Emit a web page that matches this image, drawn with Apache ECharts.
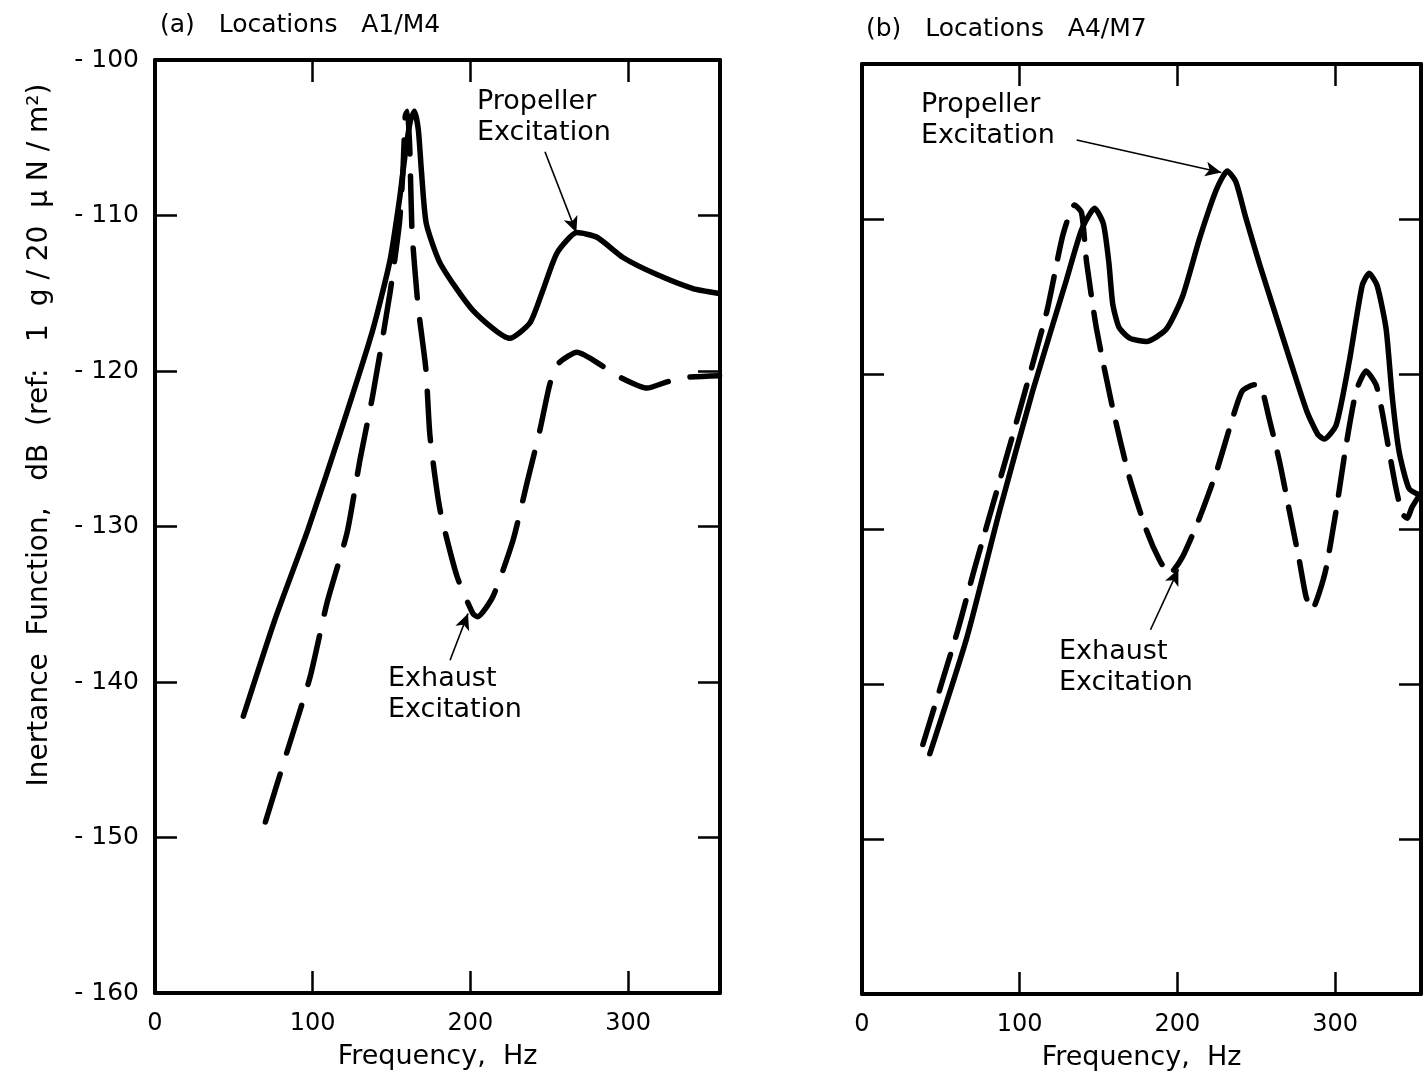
<!DOCTYPE html>
<html><head><meta charset="utf-8">
<script src="https://cdn.jsdelivr.net/npm/echarts@6/dist/echarts.min.js"></script>
<style>html,body{margin:0;padding:0;background:#fff}#c{width:1424px;height:1076px}</style>
</head><body><div id="c"></div><script>
// ---- data (Hz, dB) ----
const xTickValues = [0, 100, 200, 300];
const yTickValues = [-100, -110, -120, -130, -140, -150, -160];
const panelTitles = ['(a)   Locations   A1/M4', '(b)   Locations   A4/M7'];
const xAxisName = 'Frequency,  Hz';
const yAxisName = 'Inertance  Function,   dB  (ref:   1  g / 20  \u03bc N / m\u00b2)';

const aPropeller = [[56,-142.2],[76,-136],[97,-130.2],[119,-123.5],[138,-117.4],[149,-112.9],[155,-109],[159,-105.8],[162,-103.9],[164.5,-103.3],[167,-104.5],[169,-107.2],[172,-110.5],[181,-113.1],[201.6,-116.1],[225,-117.9],[237.8,-116.9],[246,-114.8],[255,-112.4],[267.6,-111.1],[280.3,-111.4],[296.8,-112.7],[318.3,-113.8],[341.2,-114.7],[357,-115]];
const aExhaust = [[70,-149],[83.7,-144.5],[98.3,-139.7],[109.1,-134.9],[121.8,-130.4],[130,-125.7],[138.2,-121.5],[149,-115],[155,-110.5],[157.3,-107],[158.7,-103.6],[160,-103.3],[161.5,-105.5],[163,-111],[166.8,-115.8],[171.8,-119.9],[174.4,-124.2],[180.7,-128.9],[191.5,-133.2],[201.6,-135.6],[204.5,-135.8],[214.3,-134.5],[227,-130.9],[235.9,-127.2],[244.1,-123.8],[250.5,-120.8],[256,-119.5],[267.6,-118.8],[284.1,-119.7],[294.9,-120.4],[312,-121.1],[324.7,-120.7],[337.3,-120.4],[358,-120.3]];
const bPropeller = [[43,-144.5],[66.5,-137],[87.3,-128.8],[108.2,-121.1],[129.7,-113.9],[139.2,-110.7],[147.5,-109.3],[153,-110.3],[156.5,-112.8],[159,-115.5],[163,-117],[170,-117.7],[180.4,-117.9],[193,-117.1],[203.2,-115],[213.9,-111.3],[224.7,-108.1],[231.6,-106.9],[237,-107.6],[243,-109.8],[252,-112.9],[262,-116.1],[272,-119.3],[282,-122.4],[289,-123.9],[293,-124.2],[300.6,-123.3],[308.9,-119.2],[317.1,-114.3],[321.5,-113.5],[326.6,-114.3],[332.3,-117.1],[336.1,-121.4],[340.5,-125],[346.8,-127.4],[353.5,-127.8]];
const bExhaust = [[38.6,-143.9],[60.8,-136.5],[71.5,-132.5],[96.8,-123.5],[117.1,-116],[127.2,-111.1],[134.8,-109.1],[139.2,-109.6],[142.4,-112.8],[148.7,-117.1],[158.9,-122.2],[169.6,-126.7],[180.4,-130.1],[188.6,-132],[194.9,-132.9],[203.2,-131.8],[213.9,-129.3],[224.7,-126.3],[234.8,-122.9],[241.1,-121.1],[248.7,-120.7],[253.2,-120.9],[258.2,-122.9],[264.6,-125.6],[270.9,-128.8],[277.2,-132],[281.6,-134.4],[285.4,-135.2],[289.9,-134.1],[294.3,-132.5],[300.6,-128.8],[306.9,-124.6],[313.3,-121.1],[319.6,-119.8],[325.9,-120.7],[329.7,-122.4],[334.2,-125],[338.6,-127.4],[342.4,-129],[345.6,-129.3],[348.7,-128.6],[353.5,-127.8]];

// annotation arrows: [tail, tip] in data coords
const aPropArrow = [[247.3,-105.9],[267.2,-111.1]];
const aExhArrow = [[187.1,-138.6],[198.5,-135.6]];
const bPropArrow = [[136.1,-104.9],[227.8,-107.0]];
const bExhArrow = [[182.9,-136.5],[200.6,-132.6]];
const annotationTexts = ['Propeller\nExcitation', 'Exhaust\nExcitation'];

// ---- chart ----
const FONT = 'DejaVu Sans';
const chart = echarts.init(document.getElementById('c'), null, {renderer: 'canvas'});
const grids = [
  {left: 155, top: 60, width: 565, height: 933},
  {left: 862, top: 64, width: 560, height: 934}
];
const xMax = [358.3, 354.4];

function xAx(g, pos, labels) {
  return {
    type: 'value', gridIndex: g, position: pos, min: 0, max: xMax[g], interval: 100,
    axisLine: {show: true, onZero: false, lineStyle: {color: '#000', width: 4}},
    axisTick: {show: true, inside: true, length: 22, lineStyle: {color: '#000', width: 2.5}},
    axisLabel: {show: labels, margin: 19, color: '#000', fontSize: 24, fontFamily: FONT,
      formatter: v => xTickValues.indexOf(v) >= 0 ? String(v) : ''},
    splitLine: {show: false},
    name: labels ? xAxisName : '', nameLocation: 'middle', nameGap: 50,
    nameTextStyle: {color: '#000', fontSize: 27, fontFamily: FONT}
  };
}
function yAx(g, pos, labels) {
  return {
    type: 'value', gridIndex: g, position: pos, min: -160, max: -100, interval: 10,
    axisLine: {show: true, onZero: false, lineStyle: {color: '#000', width: 4}},
    axisTick: {show: true, inside: true, length: 22, lineStyle: {color: '#000', width: 2.5}},
    axisLabel: {show: labels, margin: 16, color: '#000', fontSize: 25, fontFamily: FONT,
      formatter: v => yTickValues.indexOf(v) >= 0 ? ('- ' + Math.abs(v)) : ''},
    splitLine: {show: false}
  };
}
function arrow(pts) {
  return {
    silent: true, symbol: ['none', 'arrow'], symbolSize: [11, 16],
    label: {show: false},
    lineStyle: {color: '#000', width: 1.6, type: 'solid'},
    data: [[{coord: pts[0]}, {coord: pts[1]}]]
  };
}
function line(data, xi, yi, dashed, ml) {
  return {
    type: 'line', xAxisIndex: xi, yAxisIndex: yi, data: data, showSymbol: false,
    smooth: 0.2, animation: false,
    lineStyle: {color: '#000', width: 5.5, cap: 'round', join: 'round',
      type: dashed ? (xi === 0 ? [50, 22] : [38, 18]) : 'solid'},
    markLine: ml
  };
}
function txt(x, y, s, size) {
  return {type: 'text', left: x, top: y, style: {text: s, fill: '#000', fontSize: size, fontFamily: FONT, lineHeight: 31}};
}

chart.setOption({
  animation: false,
  backgroundColor: '#fff',
  grid: grids,
  xAxis: [xAx(0, 'bottom', true), xAx(0, 'top', false), xAx(1, 'bottom', true), xAx(1, 'top', false)],
  yAxis: [yAx(0, 'left', true), yAx(0, 'right', false), yAx(1, 'left', false), yAx(1, 'right', false)],
  series: [
    line(aPropeller, 0, 0, false, arrow(aPropArrow)),
    line(aExhaust, 0, 0, true, arrow(aExhArrow)),
    line(bPropeller, 2, 2, false, arrow(bPropArrow)),
    line(bExhaust, 2, 2, true, arrow(bExhArrow))
  ],
  graphic: [
    txt(160, 10, panelTitles[0], 25),
    txt(866, 14, panelTitles[1], 25),
    txt(477, 86, annotationTexts[0], 27),
    txt(388, 663, annotationTexts[1], 27),
    txt(921, 89, annotationTexts[0], 27),
    txt(1059, 636, annotationTexts[1], 27),
    {type: 'text', x: 40, y: 435, rotation: Math.PI / 2,
      style: {text: yAxisName, fill: '#000', fontSize: 28, fontFamily: FONT, align: 'center', verticalAlign: 'middle'}}
  ]
});
</script></body></html>
